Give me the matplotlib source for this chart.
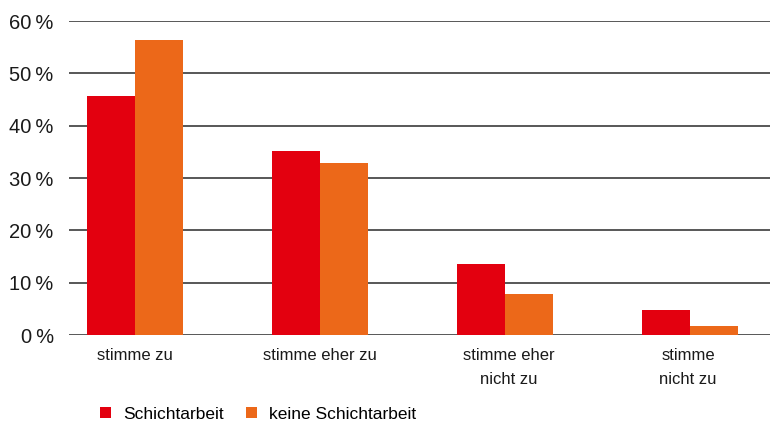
import numpy as np
from matplotlib import pyplot as plt
from matplotlib import font_manager

categories = ['stimme zu', 'stimme eher zu', 'stimme eher\nnicht zu', 'stimme\nnicht zu']
schicht = [45.7, 35.2, 13.6, 4.8]
keine_schicht = [56.4, 32.9, 7.8, 1.7]
yticks = [0, 10, 20, 30, 40, 50, 60]

names = set(f.name for f in font_manager.fontManager.ttflist)
narrow = 'Liberation Sans Narrow' if 'Liberation Sans Narrow' in names else 'Liberation Sans'

fig = plt.figure(figsize=(7.7, 4.23), dpi=100)
ax = fig.add_axes([69/770, 1 - 335/423, 1 - 69/770, 314/423])

x = np.arange(len(categories))
w = 0.26
b1 = ax.bar(x - w/2, schicht, w, color='#E3000F', label='Schichtarbeit', zorder=3)
b2 = ax.bar(x + w/2, keine_schicht, w, color='#EC6819', label='keine Schichtarbeit', zorder=3)

ax.set_xlim(-0.357, 3.432)
ax.set_ylim(0, 60)
ax.set_yticks(yticks)
ax.set_yticklabels(['%d\u2009%%' % v for v in yticks], family=['Liberation Sans', 'DejaVu Sans'], fontsize=14.5, color='#1a1a1a')
ax.set_xticks([0, 1, 2.02, 2.99])
ax.set_xticklabels(categories, family=[narrow, 'DejaVu Sans'], fontsize=12, color='#1a1a1a', linespacing=1.75)
ax.tick_params(axis='y', length=0, pad=11)
ax.tick_params(axis='x', length=0, pad=9)

for s in ax.spines.values():
    s.set_visible(False)
ax.yaxis.grid(True, color='#4a4a4a', linewidth=1.3, zorder=0)
ax.set_axisbelow(True)

fig.legend(handles=[b1, b2], loc='lower left', bbox_to_anchor=(90/770, -0.022), ncol=2, frameon=False,
           prop={'family': [narrow, 'DejaVu Sans'], 'size': 12.5}, handlelength=0.6, handleheight=0.6,
           handletextpad=0.7, columnspacing=1.3, borderaxespad=0.2)

plt.savefig('out.png', dpi=100)
